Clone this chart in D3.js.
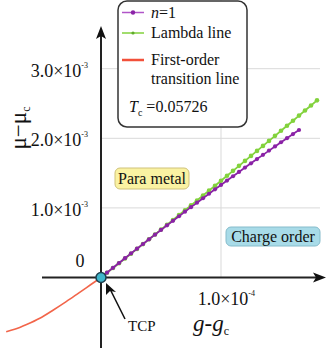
<!DOCTYPE html>
<meta charset="utf-8">
<style>
body { margin: 0; background: #fff; }
svg text { font-family: "Liberation Serif", "Times New Roman", Times, "DejaVu Serif", serif; fill: #111; }
.grid { stroke: #d9d9d9; stroke-width: 1px; }
.axis { stroke: #222; stroke-width: 2px; }
</style>
<svg width="327" height="348" font-family="Liberation Serif, Times New Roman, DejaVu Serif, serif"></svg>
<script src="https://d3js.org/d3.v7.min.js"></script>
<script>

// x in units of 1e-4, y in units of 1e-3
var lambdaX = [0,0.05,0.10,0.15,0.20,0.25,0.30,0.35,0.40,0.45,0.50,0.55,0.60,0.65,0.70,0.75,0.80,0.85,0.90,0.95,1.00,1.05,1.10,1.15,1.20,1.25,1.30,1.35,1.40,1.45,1.50,1.55,1.60,1.65,1.70,1.75,1.80];
var lambdaY = [0,0.068,0.136,0.205,0.273,0.342,0.411,0.480,0.549,0.618,0.688,0.757,0.827,0.897,0.967,1.037,1.107,1.178,1.248,1.319,1.390,1.461,1.532,1.604,1.675,1.747,1.819,1.891,1.963,2.035,2.108,2.180,2.253,2.326,2.399,2.472,2.545];

var n1X = [0,0.05,0.10,0.15,0.20,0.25,0.30,0.35,0.40,0.45,0.50,0.55,0.60,0.65,0.70,0.75,0.80,0.85,0.90,0.95,1.00,1.05,1.10,1.15,1.20,1.25,1.30,1.35,1.40,1.45,1.50,1.55,1.60,1.65];
var n1Y = [0,0.070,0.139,0.208,0.277,0.346,0.414,0.481,0.549,0.616,0.683,0.749,0.815,0.880,0.946,1.011,1.075,1.139,1.203,1.267,1.330,1.393,1.455,1.517,1.579,1.641,1.702,1.762,1.823,1.883,1.943,2.002,2.061,2.119];

var firstX = [0,-0.09,-0.19,-0.29,-0.40,-0.51,-0.62,-0.72,-0.79];
var firstY = [0,-0.108,-0.228,-0.347,-0.470,-0.586,-0.676,-0.745,-0.780];

var yTicks = [1, 2, 3];
var yTickLabels = ["1.0\u00d710", "2.0\u00d710", "3.0\u00d710"];
var xTicks = [1];
var xTickLabels = ["1.0\u00d710"];

var svg = d3.select("svg");

var x = d3.scaleLinear().domain([0, 1]).range([101, 221]);
var y = d3.scaleLinear().domain([0, 1]).range([277.5, 207.9]);

// grid
svg.selectAll(".hgrid")
  .data(yTicks)
  .enter().append("line")
    .attr("class", "grid")
    .attr("x1", x(0)).attr("x2", 320)
    .attr("y1", function(d) { return y(d); })
    .attr("y2", function(d) { return y(d); });

svg.selectAll(".vgrid")
  .data(xTicks)
  .enter().append("line")
    .attr("class", "grid")
    .attr("x1", function(d) { return x(d); })
    .attr("x2", function(d) { return x(d); })
    .attr("y1", 0).attr("y2", y(0));

// axes with arrows
svg.append("line").attr("class", "axis")
  .attr("x1", 42).attr("x2", 318).attr("y1", y(0)).attr("y2", y(0));
svg.append("path")
  .attr("d", "M326," + y(0) + "L313," + (y(0) - 5) + "L316," + y(0) + "L313," + (y(0) + 5) + "Z")
  .attr("fill", "#111");
svg.append("line").attr("class", "axis")
  .attr("x1", x(0)).attr("x2", x(0)).attr("y1", 36).attr("y2", 348);
svg.append("path")
  .attr("d", "M" + x(0) + ",26L" + (x(0) - 5) + ",39L" + x(0) + ",36L" + (x(0) + 5) + ",39Z")
  .attr("fill", "#111");

// tick labels
var yl = svg.selectAll(".ylab")
  .data(yTicks)
  .enter().append("text")
    .attr("x", 88)
    .attr("y", function(d) { return y(d) + 8; })
    .attr("text-anchor", "end")
    .style("font-size", "18px");
yl.append("tspan").text(function(d, i) { return yTickLabels[i]; });
yl.append("tspan").attr("dy", -9).style("font-size", "8px").text("-3");

svg.append("text").attr("x", 80).attr("y", y(0) - 11)
  .attr("text-anchor", "middle").style("font-size", "18px").text("0");

var xl = svg.selectAll(".xlab")
  .data(xTicks)
  .enter().append("text")
    .attr("x", function(d) { return x(d) + 34; })
    .attr("y", y(0) + 27)
    .attr("text-anchor", "end")
    .style("font-size", "18px");
xl.append("tspan").text(function(d, i) { return xTickLabels[i]; });
xl.append("tspan").attr("dy", -9).style("font-size", "8px").text("-4");

// axis titles
var yt = svg.append("text")
  .attr("transform", "translate(26,128) rotate(-90)")
  .attr("text-anchor", "middle")
  .style("font-size", "23px");
yt.append("tspan").text("\u03bc\u2212\u03bc");
yt.append("tspan").attr("dy", 4).style("font-size", "12px").text("c");

var xt = svg.append("text")
  .attr("x", 193).attr("y", 331)
  .style("font-size", "23px");
xt.append("tspan").style("font-style", "italic").text("g");
xt.append("tspan").text("-");
xt.append("tspan").style("font-style", "italic").text("g");
xt.append("tspan").attr("dy", 4).style("font-size", "12px").text("c");

// region labels
svg.append("rect").attr("x", 115).attr("y", 168).attr("width", 74).attr("height", 21)
  .attr("rx", 5).attr("fill", "#faf2a2").attr("stroke", "#cfc27a").attr("stroke-width", 1);
svg.append("text").attr("x", 152).attr("y", 184).attr("text-anchor", "middle")
  .style("font-size", "16px").text("Para metal");

svg.append("rect").attr("x", 226).attr("y", 227).attr("width", 94).attr("height", 19)
  .attr("rx", 5).attr("fill", "#a8dbe8").attr("stroke", "#86bccb").attr("stroke-width", 1);
svg.append("text").attr("x", 273).attr("y", 242).attr("text-anchor", "middle")
  .style("font-size", "16px").text("Charge order");

// data lines
var firstData = firstX.map(function(v, i) { return [v, firstY[i]]; });
var lambdaData = lambdaX.map(function(v, i) { return [v, lambdaY[i]]; });
var n1Data = n1X.map(function(v, i) { return [v, n1Y[i]]; });

var curveLine = d3.line()
  .x(function(d) { return x(d[0]); })
  .y(function(d) { return y(d[1]); })
  .curve(d3.curveMonotoneX);

svg.append("path").datum(firstData)
  .attr("d", curveLine)
  .attr("fill", "none").attr("stroke", "#f2654a").attr("stroke-width", 1.6);

var lineL = d3.line().x(function(d) { return x(d[0]); }).y(function(d) { return y(d[1]); });

svg.append("path").datum(lambdaData)
  .attr("d", lineL)
  .attr("fill", "none").attr("stroke", "#82d23c").attr("stroke-width", 1.8);
svg.selectAll(".ldot").data(lambdaData).enter().append("circle")
  .attr("cx", function(d) { return x(d[0]); })
  .attr("cy", function(d) { return y(d[1]); })
  .attr("r", 2.3).attr("fill", "#82d23c");

svg.append("path").datum(n1Data)
  .attr("d", lineL)
  .attr("fill", "none").attr("stroke", "#8a22a6").attr("stroke-width", 1.8);
svg.selectAll(".ndot").data(n1Data).enter().append("circle")
  .attr("cx", function(d) { return x(d[0]); })
  .attr("cy", function(d) { return y(d[1]); })
  .attr("r", 2.1).attr("fill", "#8a22a6");

// TCP
svg.append("circle").attr("cx", x(0)).attr("cy", y(0)).attr("r", 5)
  .attr("fill", "#3fb6cb").attr("stroke", "#1d3f4f").attr("stroke-width", 1.5);
svg.append("line").attr("x1", 125).attr("y1", 319).attr("x2", 110).attr("y2", 289)
  .attr("stroke", "#111").attr("stroke-width", 1.5);
svg.append("path").attr("d", "M106,283L106,295L110,291L116,292Z").attr("fill", "#111");
svg.append("text").attr("x", 128).attr("y", 331).style("font-size", "15px").text("TCP");

// legend
var lg = svg.append("g");
lg.append("rect").attr("x", 118).attr("y", 1).attr("width", 129).attr("height", 126)
  .attr("rx", 9).attr("fill", "#fff").attr("stroke", "#333").attr("stroke-width", 1.5);
lg.append("line").attr("x1", 122).attr("x2", 144).attr("y1", 12.5).attr("y2", 12.5)
  .attr("stroke", "#b055c8").attr("stroke-width", 1.5);
lg.append("circle").attr("cx", 133).attr("cy", 12.5).attr("r", 2.2).attr("fill", "#8a22a6");
lg.append("line").attr("x1", 122).attr("x2", 144).attr("y1", 33).attr("y2", 33)
  .attr("stroke", "#82d23c").attr("stroke-width", 1.5);
lg.append("circle").attr("cx", 133).attr("cy", 33).attr("r", 1.6).attr("fill", "#5faa2a");
lg.append("line").attr("x1", 122).attr("x2", 144).attr("y1", 60).attr("y2", 60)
  .attr("stroke", "#f2503a").attr("stroke-width", 2.5);

var t1 = lg.append("text").attr("x", 151).attr("y", 18).style("font-size", "16px");
t1.append("tspan").style("font-style", "italic").text("n");
t1.append("tspan").text("=1");
lg.append("text").attr("x", 151).attr("y", 38).style("font-size", "16px").text("Lambda line");
lg.append("text").attr("x", 151).attr("y", 65).style("font-size", "16px").text("First-order");
lg.append("text").attr("x", 151).attr("y", 84).style("font-size", "16px").text("transition line");
var t2 = lg.append("text").attr("x", 129).attr("y", 112).style("font-size", "16px");
t2.append("tspan").style("font-style", "italic").text("T");
t2.append("tspan").attr("dy", 4).style("font-size", "10px").text("c");
t2.append("tspan").attr("dy", -4).text(" =0.05726");

</script>
